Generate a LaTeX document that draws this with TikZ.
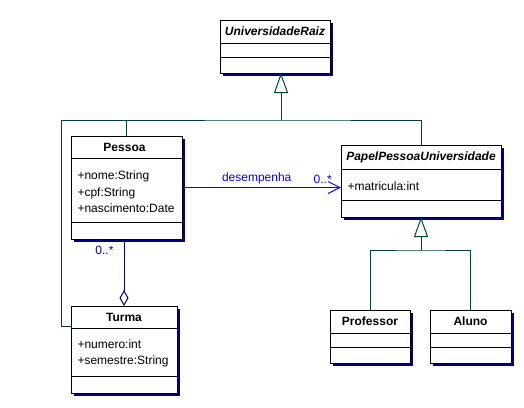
\documentclass[tikz,border=0pt]{standalone}
\usepackage{fontspec}
\setmainfont{Liberation Sans}
\usetikzlibrary{arrows.meta, shadows, calc}

\definecolor{shadownavy}{RGB}{0,0,128}
\definecolor{genteal}{RGB}{0,64,64}
\definecolor{assocblue}{RGB}{0,0,255}
\definecolor{aggnavy}{RGB}{0,0,128}

\begin{document}
\begin{tikzpicture}[x=1pt, y=-1pt, line width=1pt,
    every node/.style={font=\fontsize{12}{16.5}\selectfont},
    classbox/.style={draw, fill=white, inner sep=0, outer sep=0, anchor=north west,
        general shadow={fill=shadownavy, shadow xshift=3pt, shadow yshift=-3pt}},
    classname/.style={font=\fontsize{12}{14}\selectfont\bfseries, inner sep=0},
    abstractname/.style={font=\fontsize{12}{14}\selectfont\bfseries\itshape, inner sep=0},
    attrs/.style={anchor=west, align=left, inner sep=0, xshift=6pt},
    genedge/.style={draw=genteal},
    gentip/.style={genedge, -{Triangle[open, length=20pt, width=14pt]}},
    assoc/.style={draw=assocblue, -{Straight Barb[length=12pt, width=12pt]}},
    aggedge/.style={draw=aggnavy, {Diamond[open, length=16pt, width=9pt]}-}]

    \useasboundingbox (0,0) rectangle (524,407);

    % classes
    \node[classbox, minimum width=110, minimum height=53] (raiz) at (220,20) {};
    \node[classbox, minimum width=111, minimum height=103] (pessoa) at (71,136) {};
    \node[classbox, minimum width=160, minimum height=72] (papel) at (341,145) {};
    \node[classbox, minimum width=106, minimum height=87] (turma) at (71,306) {};
    \node[classbox, minimum width=80, minimum height=53] (prof) at (330,310) {};
    \node[classbox, minimum width=81, minimum height=53] (aluno) at (430,310) {};

    \foreach \n/\a/\b in {raiz/23/37, pessoa/22/86, papel/24/55, turma/22/70, prof/23/37, aluno/23/37}
        \draw ($(\n.north west)+(0,\a)$) -- ($(\n.north east)+(0,\a)$)
              ($(\n.north west)+(0,\b)$) -- ($(\n.north east)+(0,\b)$);

    \node[abstractname] (raizname) at ($(raiz.north)+(0,11.5)$) {UniversidadeRaiz};
    \node[classname] (pessoaname) at ($(pessoa.north)+(-2,11)$) {Pessoa};
    \node[abstractname] (papelname) at ($(papel.north)+(0,12)$) {PapelPessoaUniversidade};
    \node[classname] (turmaname) at ($(turma.north)+(0,11)$) {Turma};
    \node[classname] (profname) at ($(prof.north)+(0,11.5)$) {Professor};
    \node[classname] (alunoname) at ($(aluno.north)+(0,11.5)$) {Aluno};

    \node[attrs] (pessoaattrs) at ($(pessoa.north west)+(0,56)$) {+nome:String\\+cpf:String\\+nascimento:Date};
    \node[attrs] (papelattrs) at ($(papel.north west)+(0,41)$) {+matricula:int};
    \node[attrs] (turmaattrs) at ($(turma.north west)+(0,47.5)$) {+numero:int\\+semestre:String};

    % generalizations
    \coordinate (gtop) at (281,120);
    \coordinate (gleft) at (61,120);
    \draw[gentip] (gtop) -- (gtop |- raiz.south);
    \draw[genedge] (pessoa.north) |- (gtop) -| (papel.north);
    \draw[genedge] ($(turma.north west)+(0,20)$) -| (gleft) -- (pessoa.north |- gleft);

    \coordinate (pj) at (421,250);
    \draw[gentip] (pj) -- (pj |- papel.south);
    \draw[genedge] (prof.north) |- (pj) -| (aluno.north);

    % association and aggregation
    \draw[assoc] (pessoa.east) -- (pessoa.east -| papel.west)
        node[pos=0.47, above=3pt, text=assocblue, inner sep=0] (desemp) {desempenha}
        node[pos=0.885, above=3pt, text=assocblue, inner sep=0] (mult1) {0..*};
    \draw[aggedge] (turma.north) -- (turma.north |- pessoa.south)
        node[pos=1, anchor=north east, inner sep=0, xshift=-10pt, yshift=-7pt, text=aggnavy] (mult2) {0..*};
\end{tikzpicture}
\end{document}
